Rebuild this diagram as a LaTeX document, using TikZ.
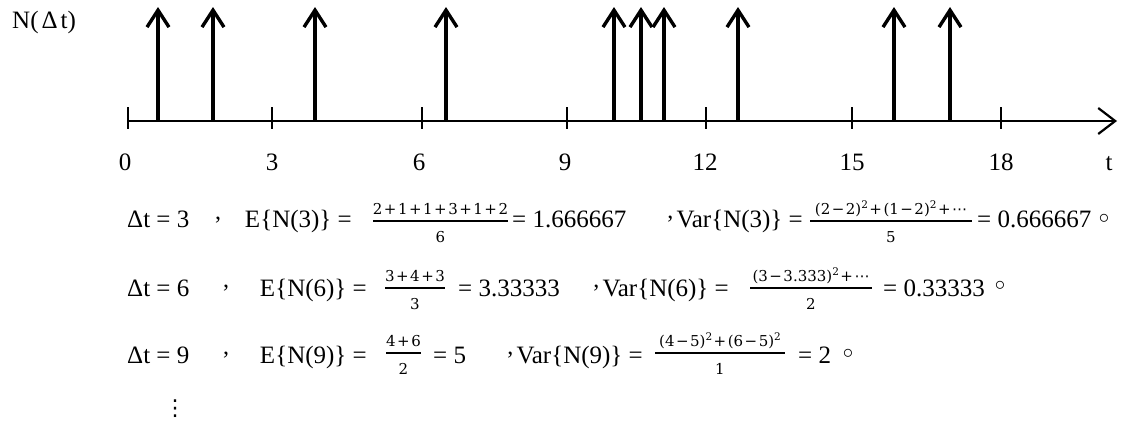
\documentclass[tikz,border=0pt]{standalone}
\usepackage{fontspec}
\setmainfont{Liberation Serif}
\newfontfamily\dvs{DejaVu Sans}
\newfontfamily\frfont{DejaVu Serif}
\usetikzlibrary{arrows.meta}
\newcommand\opr[1]{\kern1.5pt#1\kern1.5pt}
\newcommand\sq{\raisebox{5.5pt}{\fontsize{10.5}{12}\selectfont 2}}
\newcommand\cdts{{\dvs ⋯}}
\begin{document}
\begin{tikzpicture}[x=1pt,y=-1pt,
  txt/.style={inner sep=0pt, anchor=base west, font=\fontsize{25}{30}\selectfont},
  txe/.style={inner sep=0pt, anchor=base east, font=\fontsize{25}{30}\selectfont},
  lbl/.style={inner sep=0pt, anchor=base, font=\fontsize{25}{30}\selectfont},
  commastyle/.style={inner sep=0pt, anchor=center, font=\fontsize{24}{28}\selectfont},
  dotc/.style={inner sep=0pt, anchor=center, font=\fontsize{20}{24}\selectfont},
  fr/.style={inner sep=0pt, anchor=base, font=\fontsize{15}{18}\frfont},
  fbar/.style={line width=1.4pt},
  spike/.style={line width=3.4pt, -{Straight Barb[length=17pt,width=22pt]}},
  axis/.style={line width=2.2pt, -{Straight Barb[length=17pt,width=26pt]}},
  tickm/.style={line width=1.4pt}]
\useasboundingbox (0,0) rectangle (1142,423);

% axis
\coordinate (O) at (128,121);
\coordinate (E) at (1117,121);
\draw[axis] (O) -- (E);

% ticks and labels
\foreach \x [count=\i] in {128,272,422,567,706,852,1001}{
  \coordinate (tt\i) at (\x,107);
  \coordinate (tb\i) at (\x,129);
  \draw[tickm] (tt\i) -- (tb\i);
}
\foreach \x/\l [count=\i] in {125/0,272/3,419/6,565/9,705/12,852/15,1001/18,1109/t}{
  \node[lbl] (xl\i) at (\x,170) {\l};
}

% spikes
\foreach \x [count=\i] in {158,213,315,446,614,641,664,738,894,950}{
  \coordinate (sb\i) at (\x,121);
  \coordinate (st\i) at (\x,7);
  \draw[spike] (sb\i) -- (st\i);
}

\node[txt] (ylab) at (12,28) {N(\kern3pt Δ\kern3pt t)};

% line 1
\node[txt] (a1) at (127,227) {Δt = 3};
\node[commastyle] (c1a) at (218,220) {,};
\node[txe] (e1) at (352,227) {E\{N(3)\} =};
\draw[fbar] (373,221) -- (508,221);
\node[fr] (n1a) at (440.5,214) {2\opr{+}1\opr{+}1\opr{+}3\opr{+}1\opr{+}2};
\node[fr] (d1a) at (440.5,242) {6};
\node[txt] (v1) at (512,227) {= 1.666667};
\node[txe] (w1) at (803,227) {Var\{N(3)\} =};
\node[commastyle, anchor=center] (c1b) at ([xshift=-6pt,yshift=8pt]w1.base west) {,};
\draw[fbar] (810,221) -- (972,221);
\node[fr] (n1b) at (891,214) {(2\opr{−}2)\sq\opr{+}(1\opr{−}2)\sq\opr{+}\cdts};
\node[fr] (d1b) at (891,242) {5};
\node[txt] (x1) at (977,227) {= 0.666667};
\node[dotc] (o1) at (1104,219) {$\circ$};

% line 2
\node[txt] (a2) at (127,296) {Δt = 6};
\node[commastyle] (c2a) at (226,288) {,};
\node[txe] (e2) at (367,296) {E\{N(6)\} =};
\draw[fbar] (385,288) -- (445,288);
\node[fr] (n2a) at (415,281) {3\opr{+}4\opr{+}3};
\node[fr] (d2a) at (415,309) {3};
\node[txt] (v2) at (458,296) {= 3.33333};
\node[txe] (w2) at (729,296) {Var\{N(6)\} =};
\node[commastyle, anchor=center] (c2b) at ([xshift=-6pt,yshift=8pt]w2.base west) {,};
\draw[fbar] (750,288) -- (872,288);
\node[fr] (n2b) at (811,281) {(3\opr{−}3.333)\sq\opr{+}\cdts};
\node[fr] (d2b) at (811,309) {2};
\node[txt] (x2) at (883,296) {= 0.33333};
\node[dotc] (o2) at (1000,286) {$\circ$};

% line 3
\node[txt] (a3) at (127,363) {Δt = 9};
\node[commastyle] (c3a) at (226,355) {,};
\node[txe] (e3) at (367,363) {E\{N(9)\} =};
\draw[fbar] (386,353) -- (421,353);
\node[fr] (n3a) at (403.5,346) {4\opr{+}6};
\node[fr] (d3a) at (403.5,374) {2};
\node[txt] (v3) at (433,363) {= 5};
\node[txe] (w3) at (643,363) {Var\{N(9)\} =};
\node[commastyle, anchor=center] (c3b) at ([xshift=-6pt,yshift=8pt]w3.base west) {,};
\draw[fbar] (655,353) -- (785,353);
\node[fr] (n3b) at (720,346) {(4\opr{−}5)\sq\opr{+}(6\opr{−}5)\sq};
\node[fr] (d3b) at (720,374) {1};
\node[txt] (x3) at (798,363) {= 2};
\node[dotc] (o3) at (848,354) {$\circ$};

\node[inner sep=0pt, font=\fontsize{22}{26}\selectfont\dvs] (vd) at (175,409) {⋮};
\end{tikzpicture}
\end{document}
